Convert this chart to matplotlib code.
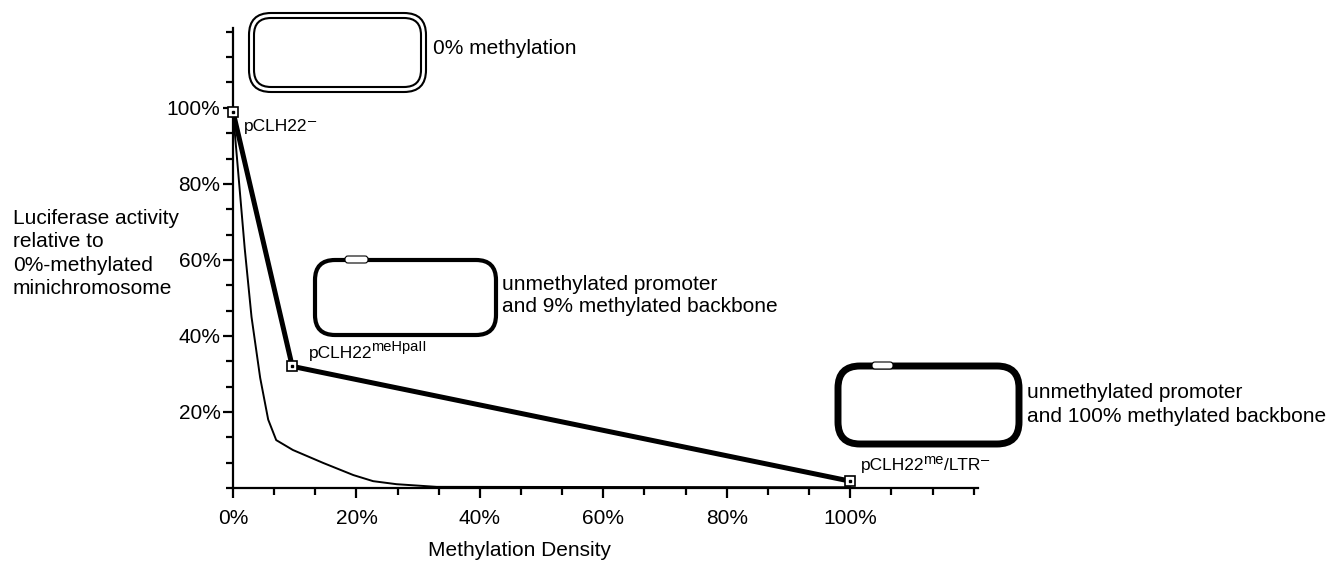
import matplotlib
matplotlib.use("Agg")
import matplotlib.pyplot as plt
from matplotlib.patches import FancyBboxPatch
from matplotlib.ticker import MultipleLocator, FixedLocator

plt.rcParams['font.family'] = ['Liberation Sans', 'DejaVu Sans']

# Data
construct_x = [0, 9.6, 100]          # methylation density (%)
construct_y = [99, 32, 1.8]          # luciferase activity (%)
construct_labels = [
    [('pCLH22', False), ('\u2013', True)],
    [('pCLH22', False), ('meHpaII', True)],
    [('pCLH22', False), ('me', True), ('/LTR', False), ('\u2013', True)],
]

curve_x = [0, 1.9, 3.0, 4.4, 5.7, 7.0, 9.7, 14.6, 19.5, 22.7, 26.5, 33, 100]
curve_y = [99, 63, 45, 29, 18, 12.6, 10, 6.6, 3.4, 1.8, 1.0, 0.3, 0.2]

x_ticks = [0, 20, 40, 60, 80, 100]
y_ticks = [20, 40, 60, 80, 100]

W, H = 1343, 565
fig = plt.figure(figsize=(W / 100, H / 100), dpi=100)
ax = fig.add_axes([233 / W, 1 - 488 / H, (978 - 233) / W, (488 - 28) / H])
ax.set_xlim(0, 120.7)
ax.set_ylim(0, 121)

ax.plot(curve_x, curve_y, color='black', lw=1.4, zorder=3, clip_on=False)
ax.plot(construct_x, construct_y, color='black', lw=3.6, zorder=4, clip_on=False)
ax.plot(construct_x, construct_y, ls='none', marker='s', ms=7, mfc='white', mec='black', mew=1.2, zorder=5, clip_on=False)
ax.plot(construct_x, construct_y, ls='none', marker='s', ms=1.6, mfc='black', mec='black', zorder=6, clip_on=False)

base_fs = 12.5
sup_fs = 10.5
label_offsets = [(8, -16), (12, 4), (8, 6)]
for x, y, parts, off in zip(construct_x, construct_y, construct_labels, label_offsets):
    base = ax.annotate(parts[0][0], (x, y), xytext=off, textcoords='offset points',
                       fontsize=base_fs, ha='left', va='bottom')
    prev = base
    for txt, is_sup in parts[1:]:
        if is_sup:
            dx = 0.3 if txt == '\u2013' else -1.2
            prev = ax.annotate(txt, xy=(1, 0.42), xycoords=(prev, base), xytext=(dx, 0),
                               textcoords='offset points', fontsize=sup_fs, ha='left', va='bottom')
        else:
            prev = ax.annotate(txt, xy=(1, 0), xycoords=(prev, base), xytext=(0.2, 0),
                               textcoords='offset points', fontsize=base_fs, ha='left', va='bottom')

for s in ['top', 'right']:
    ax.spines[s].set_visible(False)
for s in ['left', 'bottom']:
    ax.spines[s].set_linewidth(1.6)

ax.xaxis.set_major_locator(FixedLocator(x_ticks))
ax.yaxis.set_major_locator(FixedLocator(y_ticks))
ax.xaxis.set_minor_locator(MultipleLocator(20 / 3))
ax.yaxis.set_minor_locator(MultipleLocator(20 / 3))
ax.set_xticklabels([f'{v}%' for v in x_ticks])
ax.set_yticklabels([f'{v}%' for v in y_ticks])
ax.tick_params(which='both', direction='out', width=1.6, labelsize=15)
ax.tick_params(which='major', length=7)
ax.tick_params(which='minor', length=5)
ax.tick_params(axis='y', pad=2)
ax.tick_params(axis='x', pad=8)

# helpers in pixel space (origin top-left)
def fx(px):
    return px / W

def fy(py):
    return 1 - py / H

def rbox(x0, y0, x1, y1, r, lw, face='none'):
    p = FancyBboxPatch((x0 / 100, (H - y1) / 100), (x1 - x0) / 100, (y1 - y0) / 100,
                       boxstyle=f'round,pad=0,rounding_size={r / 100}',
                       transform=fig.dpi_scale_trans, fc=face, ec='black', lw=lw)
    fig.add_artist(p)

# plasmid icons
rbox(249, 13, 426, 92, 22, 1.5)
rbox(254, 18, 421, 87, 17, 1.5)
rbox(315, 260, 496, 335, 20, 3.0)
rbox(345, 256, 368, 263, 3, 0.8, face='white')
rbox(838, 366, 1019, 444, 22, 5.0)
rbox(872, 362, 893, 369, 3, 0.8, face='white')

fs = 15
fig.text(fx(433), fy(49), '0% methylation', fontsize=fs, va='center', ha='left')
fig.text(fx(502), fy(284), 'unmethylated promoter', fontsize=fs, va='center', ha='left')
fig.text(fx(502), fy(307), 'and 9% methylated backbone', fontsize=fs, va='center', ha='left')
fig.text(fx(1027), fy(393), 'unmethylated promoter', fontsize=fs, va='center', ha='left')
fig.text(fx(1027), fy(416), 'and 100% methylated backbone', fontsize=fs, va='center', ha='left')

ylab = ['Luciferase activity', 'relative to', '0%-methylated', 'minichromosome']
for i, t in enumerate(ylab):
    fig.text(fx(13), fy(218 + 23.5 * i), t, fontsize=fs, va='center', ha='left')

fig.text(fx(520), fy(550), 'Methylation Density', fontsize=fs, va='center', ha='center')

fig.savefig('out.png', dpi=100)
